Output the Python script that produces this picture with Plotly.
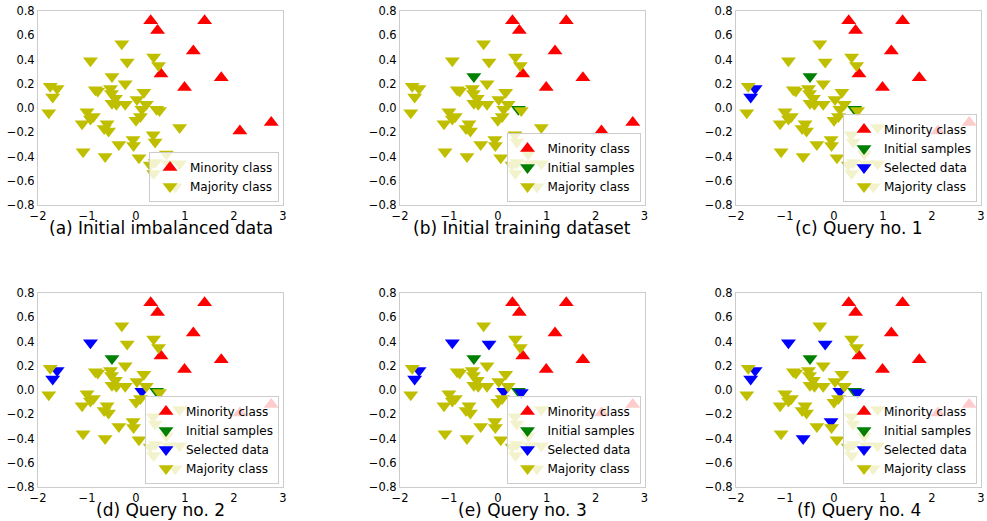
import plotly.graph_objects as go

# ---------------- data ----------------
minority_x = [0.30, 0.44, 1.40, 1.17, 0.51, 1.74, 0.99, 2.12, 2.76]
minority_y = [0.72, 0.64, 0.72, 0.47, 0.28, 0.25, 0.17, -0.19, -0.12]

majority_x = [-0.29, -0.93, -0.18, 0.36, 0.46, -0.49, -0.22, -1.75, -1.61, -1.70,
              -1.78, -0.78, -0.83, -0.52, -0.50, -0.42, -0.49, -0.40, -0.22, 0.02,
              0.16, 0.21, 0.12, 0.42, 0.48, -1.00, -0.87, -0.93, -1.10, -0.59,
              -0.65, -0.56, 0.00, 0.09, 0.89, 0.35, 0.39, -0.06, -0.05, -0.35,
              -1.08, -0.63, 0.06, 0.62, 0.29, 0.39, 0.89, 0.36, 0.80, 0.66]
majority_y = [0.53, 0.39, 0.38, 0.42, 0.35, 0.26, 0.20, 0.18, 0.16, 0.09,
              -0.04, 0.14, 0.15, 0.16, 0.12, 0.08, 0.04, 0.03, 0.03, 0.07,
              0.13, 0.03, -0.01, -0.01, -0.02, -0.03, -0.07, -0.09, -0.13, -0.13,
              -0.17, -0.19, -0.10, -0.07, -0.16, -0.22, -0.28, -0.26, -0.31, -0.30,
              -0.36, -0.40, -0.41, -0.38, -0.47, -0.45, -0.46, -0.54, -0.65, -0.46]

initial_x = [-0.49, 0.42]
initial_y = [0.26, -0.01]

query1_x = [-1.61, -1.70]
query1_y = [0.16, 0.09]
query2_x = [-0.93, 0.12]
query2_y = [0.39, -0.01]
query3_x = [-0.18, 0.48]
query3_y = [0.38, -0.02]
query4_x = [-0.63, -0.06]
query4_y = [-0.40, -0.26]

panel_titles = ["(a) Initial imbalanced data", "(b) Initial training dataset",
                "(c) Query no. 1", "(d) Query no. 2", "(e) Query no. 3",
                "(f) Query no. 4"]

x_ticks = [-2, -1, 0, 1, 2, 3]
x_ticklabels = ["\u22122", "\u22121", "0", "1", "2", "3"]
y_ticks = [-0.8, -0.6, -0.4, -0.2, 0.0, 0.2, 0.4, 0.6, 0.8]
y_ticklabels = ["\u22120.8", "\u22120.6", "\u22120.4", "\u22120.2", "0.0",
                "0.2", "0.4", "0.6", "0.8"]

# ---------------- layout geometry ----------------
W, H = 987, 521
col_px = [(38, 283), (400, 644.5), (736, 981)]
row_px = [(11, 205), (293, 487)]
FONT = "DejaVu Sans"

RED = "#ff0000"
OLIVE = "#bfbf00"
GREEN = "#008000"
BLUE = "#0000ff"
MSIZE = 13

queries = [(query1_x, query1_y), (query2_x, query2_y),
           (query3_x, query3_y), (query4_x, query4_y)]

fig = go.Figure()
layout = dict(width=W, height=H,
              margin=dict(l=0, r=0, t=0, b=0, pad=0, autoexpand=False),
              paper_bgcolor="white", plot_bgcolor="white",
              font=dict(family=FONT, color="black"), annotations=[])

for p in range(6):
    r, c = divmod(p, 3)
    xd = [col_px[c][0] / W, col_px[c][1] / W]
    yd = [1 - row_px[r][1] / H, 1 - row_px[r][0] / H]
    sfx = "" if p == 0 else str(p + 1)
    xa, ya = "x" + sfx, "y" + sfx
    lg = "legend" + sfx

    axis_common = dict(showgrid=False, zeroline=False, showline=True, mirror=True,
                       linecolor="#cccccc", linewidth=1, ticks="", automargin=False,
                       tickfont=dict(size=11.5, family=FONT, color="black"))
    layout["xaxis" + sfx] = dict(domain=xd, anchor=ya, range=[-2, 3],
                                 tickvals=x_ticks, ticktext=x_ticklabels,
                                 **axis_common)
    layout["yaxis" + sfx] = dict(domain=yd, anchor=xa, range=[-0.8, 0.8],
                                 tickvals=y_ticks, ticktext=y_ticklabels,
                                 **axis_common)
    layout[lg] = dict(x=xd[1] - 4 / W, y=yd[0] + 3 / H, xanchor="right",
                      yanchor="bottom", bgcolor="rgba(255,255,255,0.8)",
                      bordercolor="#cccccc", borderwidth=1,
                      font=dict(size=12, family=FONT, color="black"),
                      tracegroupgap=0)

    # labelled sets for this panel
    init_pts = list(zip(initial_x, initial_y)) if p >= 1 else []
    sel_pts = []
    for q in range(max(0, p - 1)):
        sel_pts += list(zip(queries[q][0], queries[q][1]))
    labelled = set(init_pts) | set(sel_pts)
    maj = [(x, y) for x, y in zip(majority_x, majority_y) if (x, y) not in labelled]

    fig.add_trace(go.Scatter(x=minority_x, y=minority_y, mode="markers",
                             name="Minority class", xaxis=xa, yaxis=ya, legend=lg,
                             marker=dict(symbol="triangle-up", size=MSIZE, color=RED,
                                         line=dict(width=0))))
    if init_pts:
        fig.add_trace(go.Scatter(x=[a for a, b in init_pts], y=[b for a, b in init_pts],
                                 mode="markers", name="Initial samples",
                                 xaxis=xa, yaxis=ya, legend=lg,
                                 marker=dict(symbol="triangle-down", size=MSIZE,
                                             color=GREEN, line=dict(width=0))))
    if sel_pts:
        fig.add_trace(go.Scatter(x=[a for a, b in sel_pts], y=[b for a, b in sel_pts],
                                 mode="markers", name="Selected data",
                                 xaxis=xa, yaxis=ya, legend=lg,
                                 marker=dict(symbol="triangle-down", size=MSIZE,
                                             color=BLUE, line=dict(width=0))))
    fig.add_trace(go.Scatter(x=[a for a, b in maj], y=[b for a, b in maj],
                             mode="markers", name="Majority class",
                             xaxis=xa, yaxis=ya, legend=lg,
                             marker=dict(symbol="triangle-down", size=MSIZE,
                                         color=OLIVE, line=dict(width=0))))

    title_y = 228 if r == 0 else 510
    layout["annotations"].append(dict(text=panel_titles[p], xref="paper", yref="paper",
                                      x=(xd[0] + xd[1]) / 2, y=1 - title_y / H,
                                      xanchor="center", yanchor="middle",
                                      showarrow=False,
                                      font=dict(size=17, family=FONT, color="black")))

fig.update_layout(**layout)
fig.write_html("out.html", config={"displayModeBar": False},
               post_script="document.body.style.margin='0px';"
                           "document.body.style.overflow='hidden';")
